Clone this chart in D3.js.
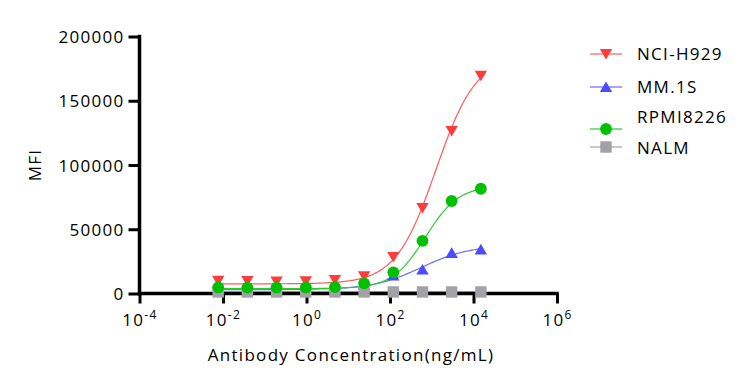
<!DOCTYPE html>
<html>
<head>
<meta charset="utf-8">
<script src="https://cdn.jsdelivr.net/npm/d3@7"></script>
<style>
  body { margin: 0; background: #fff; }
  text { font-family: "Open Sans", sans-serif; fill: #000; letter-spacing: 1.3px; }
</style>
</head>
<body>
<div id="chart"></div>
<script>
// concentrations (ng/mL), 5-fold dilution series
const conc = [0.00768, 0.0384, 0.192, 0.96, 4.8, 24, 120, 600, 3000, 15000];

// MFI
const nciH929 = [9900, 9700, 9300, 9600, 10500, 13400, 28500, 66600, 126500, 169500];
const mm1s = [3500, 3500, 3500, 3600, 4000, 7000, 14100, 18600, 31600, 34300];
const rpmi8226 = [4700, 4600, 4600, 4700, 5000, 7900, 16500, 41000, 72000, 81500];
const nalm = [1200, 1200, 1200, 1200, 1200, 1200, 1200, 1200, 1200, 1200];

// 4PL fit: [bottom, top, logEC50, hill]
const fitH929 = [7500, 185000, 3.1, 0.9];
const fitMM1S = [3000, 37500, 2.75, 0.75];
const fitRPMI = [3800, 84000, 2.85, 1.1];
const fitNALM = [1200, 1200, 2.0, 1.0];

const seriesNames = ["NCI-H929", "MM.1S", "RPMI8226", "NALM"];
const yTicks = [0, 50000, 100000, 150000, 200000];
const xTicks = [-4, -2, 0, 2, 4, 6];

const series = [
  {name: "NCI-H929", values: nciH929, fit: fitH929, color: "#ff3c3c", line: "#ff5a5a", shape: "down"},
  {name: "MM.1S", values: mm1s, fit: fitMM1S, color: "#4b4bff", line: "#6a6aff", shape: "up"},
  {name: "NALM", values: nalm, fit: fitNALM, color: "#a2a2a6", line: "#a2a2a6", shape: "square"},
  {name: "RPMI8226", values: rpmi8226, fit: fitRPMI, color: "#00c000", line: "#2ccc2c", shape: "circle"}
];

const width = 754, height = 387;
const svg = d3.select("#chart").append("svg").attr("width", width).attr("height", height);

const x = d3.scaleLog().domain([1e-4, 1e6]).range([139.5, 557]);
const y = d3.scaleLinear().domain([0, 200000]).range([293.5, 36.5]);

// curves
const fourPL = (p, c) => p[0] + (p[1] - p[0]) / (1 + Math.pow(10, p[3] * (p[2] - Math.log10(c))));
const line = d3.line().x(d => x(d[0])).y(d => y(d[1])).curve(d3.curveLinear);
const lo = Math.log10(conc[0]), hi = Math.log10(conc[conc.length - 1]);
series.forEach(s => {
  const pts = d3.range(0, 121).map(i => {
    const c = Math.pow(10, lo + (hi - lo) * i / 120);
    return [c, fourPL(s.fit, c)];
  });
  svg.append("path").datum(pts)
    .attr("d", line).attr("fill", "none")
    .attr("stroke", s.line).attr("stroke-width", 1.2);
});

// axes
const yAxis = svg.append("g").attr("transform", "translate(139.5,0)")
  .call(d3.axisLeft(y).tickValues(yTicks).tickFormat(d3.format("d")).tickSize(11).tickSizeOuter(0).tickPadding(4));
const xAxis = svg.append("g").attr("transform", "translate(0,293.5)")
  .call(d3.axisBottom(x).tickValues(xTicks.map(e => Math.pow(10, e))).tickFormat("").tickSize(10).tickSizeOuter(0));

[yAxis, xAxis].forEach(a => {
  a.select(".domain").attr("stroke", "#000").attr("stroke-width", 3.5);
  a.selectAll(".tick line").attr("stroke", "#000").attr("stroke-width", 3);
});
yAxis.select(".domain").attr("d", "M0,295.2V34.8");
xAxis.select(".domain").attr("d", "M137.8,0H558.7");
yAxis.selectAll(".tick line").attr("x1", 0);
yAxis.selectAll(".tick text").attr("font-size", 17).attr("font-family", "Open Sans").attr("dy", "0.36em");

xAxis.selectAll(".tick").data(xTicks).append("text")
  .attr("y", 32).attr("text-anchor", "middle").attr("font-size", 17)
  .each(function(e) {
    const t = d3.select(this);
    t.append("tspan").text("10");
    t.append("tspan").attr("dy", -7).attr("font-size", 12).text(e);
  });

// markers
function drawMarker(g, shape, color) {
  if (shape === "circle") {
    g.append("circle").attr("r", 5.9).attr("fill", color);
  } else if (shape === "square") {
    g.append("rect").attr("x", -5.7).attr("y", -5.7).attr("width", 11.4).attr("height", 11.4).attr("fill", color);
  } else if (shape === "down") {
    g.append("path").attr("d", "M-6.2,-5L6.2,-5L0,5.6Z").attr("fill", color);
  } else {
    g.append("path").attr("d", "M-6.2,5L6.2,5L0,-5.6Z").attr("fill", color);
  }
}

series.forEach(s => {
  svg.append("g").selectAll("g")
    .data(s.values.map((v, i) => [conc[i], v])).enter()
    .append("g")
    .attr("transform", d => `translate(${x(d[0])},${y(d[1])})`)
    .each(function() { drawMarker(d3.select(this), s.shape, s.color); });
});

// axis titles
svg.append("text").attr("x", 351).attr("y", 361).attr("text-anchor", "middle")
  .attr("font-size", 17).text("Antibody Concentration(ng/mL)");
svg.append("text").attr("transform", "translate(41,165) rotate(-90)").attr("text-anchor", "middle")
  .attr("font-size", 17).text("MFI");

// legend
const legendRows = [
  {name: seriesNames[0], sym: 54, txt: 54, s: series[0]},
  {name: seriesNames[1], sym: 87, txt: 87, s: series[1]},
  {name: seriesNames[2], sym: 129, txt: 117, s: series[3]},
  {name: seriesNames[3], sym: 147, txt: 148, s: series[2]}
];
const legend = svg.append("g");
legendRows.forEach(r => {
  legend.append("line").attr("x1", 590).attr("x2", 622).attr("y1", r.sym).attr("y2", r.sym)
    .attr("stroke", r.s.line).attr("stroke-width", 1.2);
  drawMarker(legend.append("g").attr("transform", `translate(606,${r.sym})`), r.s.shape, r.s.color);
  legend.append("text").attr("x", 637).attr("y", r.txt).attr("dy", "0.36em")
    .attr("font-size", 17).text(r.name);
});
</script>
</body>
</html>
